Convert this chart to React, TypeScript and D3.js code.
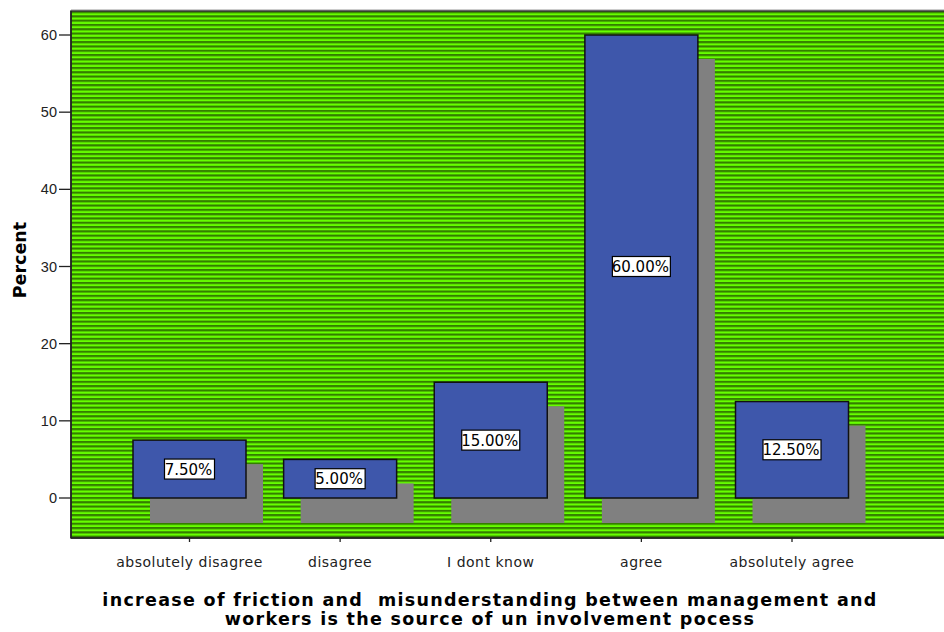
import React from "react";
import * as d3 from "d3";

const categories = ["absolutely disagree", "disagree", "I dont know", "agree", "absolutely agree"];
const percents = [7.5, 5.0, 15.0, 60.0, 12.5];
const yTicks = [0, 10, 20, 30, 40, 50, 60];
const yTitle = "Percent";
const xTitleLines = [
  "increase of friction and  misunderstanding between management and",
  "workers is the source of un involvement pocess",
];

const W = 944;
const H = 632;
const plot = { left: 71, top: 11, right: 960, bottom: 538 };
const barW = 113;
const shadowDx = 17;
const shadowDy = 24;
const stripe = 4.3;

export default function App() {
  const x = d3.scalePoint<string>().domain(categories).range([189.5, 792]);
  const y = d3.scaleLinear().domain([0, 60]).range([498, 35]);
  const sans = "'Liberation Sans', Arial, sans-serif";
  const wide = "'DejaVu Sans', Verdana, sans-serif";

  return (
    <svg
      width={W}
      height={H}
      style={{ position: "absolute", left: 0, top: 0, background: "#fff" }}
      fontFamily={sans}
    >
      <defs>
        <pattern id="stripes" patternUnits="userSpaceOnUse" width={8} height={stripe} y={plot.top}>
          <rect width={8} height={stripe} fill="#66ff00" />
          <rect width={8} height={stripe / 2} fill="#347e00" />
        </pattern>
        {categories.map((c, i) => {
          const cx = x(c) as number;
          const cy = y(percents[i] / 2);
          const bw = percents[i] >= 10 ? 58 : 50;
          return (
            <clipPath id={"clip" + i} key={"c" + c}>
              <rect x={cx - bw / 2} y={cy - 10} width={bw} height={20} />
            </clipPath>
          );
        })}
      </defs>

      {/* plot background */}
      <line x1={plot.left} x2={W} y1={plot.top - 1.5} y2={plot.top - 1.5} stroke="#ccc" strokeWidth={1} />
      <rect
        x={plot.left}
        y={plot.top}
        width={plot.right - plot.left}
        height={plot.bottom - plot.top}
        fill="url(#stripes)"
        stroke="#333"
        strokeWidth={1.5}
      />

      {/* drop shadows */}
      {categories.map((c, i) => (
        <rect
          key={"s" + c}
          x={(x(c) as number) - barW / 2 + shadowDx}
          y={y(percents[i]) + shadowDy}
          width={barW}
          height={y(0) - y(percents[i]) + 1}
          fill="#808080"
        />
      ))}

      {/* bars */}
      {categories.map((c, i) => (
        <rect
          key={"b" + c}
          x={(x(c) as number) - barW / 2}
          y={y(percents[i])}
          width={barW}
          height={y(0) - y(percents[i])}
          fill="#3e57ab"
          stroke="#111"
          strokeWidth={1.5}
        />
      ))}

      {/* value labels */}
      {categories.map((c, i) => {
        const cx = x(c) as number;
        const cy = y(percents[i] / 2);
        const label = percents[i].toFixed(2) + "%";
        const bw = percents[i] >= 10 ? 58 : 50;
        return (
          <g key={"l" + c}>
            <rect x={cx - bw / 2} y={cy - 10} width={bw} height={20} fill="#fff" />
            <text
              x={cx - 1}
              y={cy + 5.5}
              textAnchor="middle"
              fontSize={15}
              fontFamily={wide}
              fill="#000"
              clipPath={`url(#clip${i})`}
            >
              {label}
            </text>
            <rect x={cx - bw / 2} y={cy - 10} width={bw} height={20} fill="none" stroke="#000" strokeWidth={1.2} />
          </g>
        );
      })}

      {/* y axis */}
      <line x1={plot.left} x2={plot.left} y1={plot.top} y2={plot.bottom} stroke="#222" strokeWidth={1.5} />
      {yTicks.map((t) => (
        <g key={"y" + t}>
          <line x1={plot.left - 12} x2={plot.left} y1={y(t)} y2={y(t)} stroke="#222" strokeWidth={1.3} />
          <text x={plot.left - 14} y={y(t) + 5} textAnchor="end" fontSize={14.5} fill="#222">
            {t}
          </text>
        </g>
      ))}

      {/* x axis */}
      <line x1={plot.left} x2={W} y1={plot.bottom} y2={plot.bottom} stroke="#222" strokeWidth={1.5} />
      {categories.map((c) => (
        <g key={"x" + c}>
          <line x1={x(c)} x2={x(c)} y1={plot.bottom} y2={plot.bottom + 4} stroke="#222" strokeWidth={1.3} />
          <text
            x={x(c)}
            y={567}
            textAnchor="middle"
            fontSize={14}
            letterSpacing={0.5}
            fontFamily={wide}
            fill="#222"
          >
            {c}
          </text>
        </g>
      ))}

      {/* axis titles */}
      <text
        transform={`translate(26, 260) rotate(-90)`}
        textAnchor="middle"
        fontSize={17.5}
        fontWeight="bold"
        fontFamily={wide}
        fill="#000"
      >
        {yTitle}
      </text>
      {xTitleLines.map((line, i) => (
        <text
          key={"t" + i}
          x={490}
          y={606 + i * 19}
          textAnchor="middle"
          fontSize={17.5}
          fontWeight="bold"
          letterSpacing={1.3}
          fontFamily={wide}
          fill="#000"
          style={{ whiteSpace: "pre" }}
        >
          {line}
        </text>
      ))}
    </svg>
  );
}
